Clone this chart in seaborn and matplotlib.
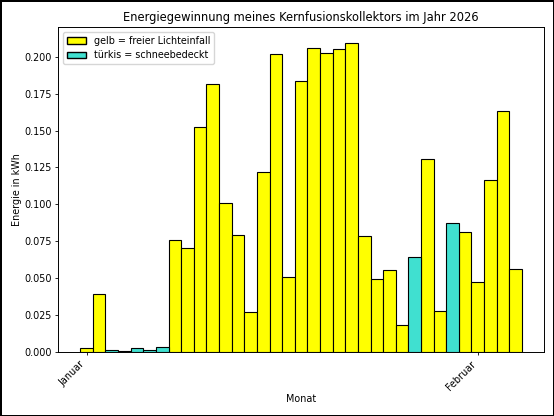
import matplotlib
matplotlib.use("Agg")
import matplotlib.pyplot as plt
from matplotlib.patches import Patch
import seaborn as sns
import pandas as pd

# Day index 0 = 1. Januar 2026 ... 34 = 4. Februar 2026
days = list(range(35))
energy = [0.0025, 0.039, 0.0013, 0.0004, 0.0029, 0.0011, 0.0036, 0.0757, 0.0705, 0.1527,
          0.1815, 0.1009, 0.0795, 0.0268, 0.1218, 0.2016, 0.0509, 0.1838, 0.2063, 0.2023,
          0.2056, 0.2097, 0.0786, 0.0491, 0.0552, 0.0180, 0.0646, 0.1306, 0.0277, 0.0876,
          0.0815, 0.0477, 0.1164, 0.1633, 0.0559]
state = ["gelb", "gelb", "türkis", "türkis", "türkis", "türkis", "türkis", "gelb", "gelb", "gelb",
         "gelb", "gelb", "gelb", "gelb", "gelb", "gelb", "gelb", "gelb", "gelb", "gelb",
         "gelb", "gelb", "gelb", "gelb", "gelb", "gelb", "türkis", "gelb", "gelb", "türkis",
         "gelb", "gelb", "gelb", "gelb", "gelb"]
month_ticks = [0, 31]
month_labels = ["Januar", "Februar"]
legend_labels = ["gelb = freier Lichteinfall", "türkis = schneebedeckt"]
colors = {"gelb": "yellow", "türkis": "turquoise"}

df = pd.DataFrame({"day": days, "energy": energy, "state": state})

fs = 6.9
fig = plt.figure(figsize=(5.54, 4.16), dpi=100)
fig.patch.set_edgecolor("black")
fig.patch.set_linewidth(2)
ax = fig.add_axes([0.105, 0.154, 0.877, 0.781])

sns.barplot(data=df, x="day", y="energy", hue="state", palette=colors,
            native_scale=True, width=1, dodge=False, edgecolor="black",
            linewidth=0.8, legend=False, ax=ax, errorbar=None, saturation=1)

ax.set_xlim(-0.5 - 1.75, 34.5 + 1.75)
ax.set_ylim(0, max(energy) * 1.05)
ax.set_xticks(month_ticks)
ax.set_xticklabels(month_labels, rotation=45, ha="right", fontsize=fs)
ax.tick_params(axis="y", labelsize=fs)
ax.tick_params(length=2.4, width=0.6, pad=2.4)
ax.yaxis.set_major_formatter(matplotlib.ticker.FormatStrFormatter("%.3f"))
ax.set_xlabel("Monat", fontsize=fs, labelpad=1.5)
ax.set_ylabel("Energie in kWh", fontsize=fs, labelpad=1.5)
ax.set_title("Energiegewinnung meines Kernfusionskollektors im Jahr 2026", fontsize=8.3, pad=4.5)
for s in ax.spines.values():
    s.set_linewidth(0.7)

handles = [Patch(facecolor=colors["gelb"], edgecolor="black"),
           Patch(facecolor=colors["türkis"], edgecolor="black")]
ax.legend(handles, legend_labels, loc="upper left", fontsize=fs)

fig.savefig("out.png", dpi=100)
